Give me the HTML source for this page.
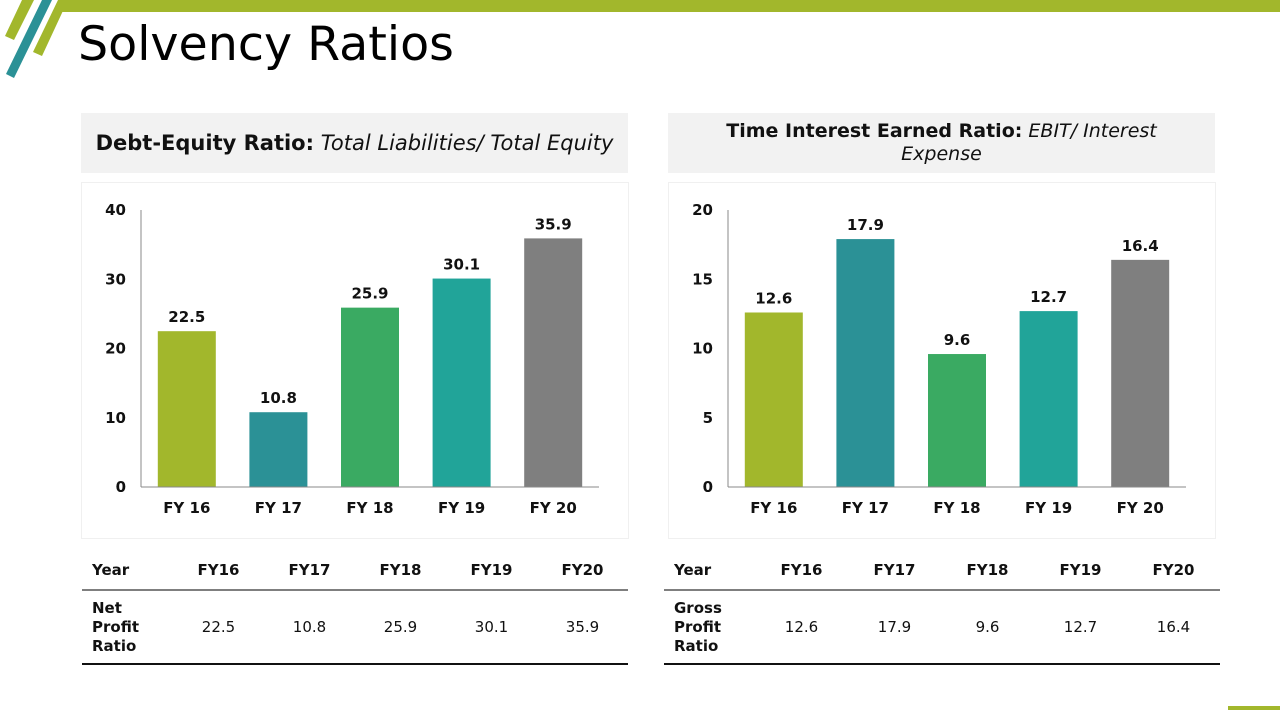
<!DOCTYPE html>
<html><head><meta charset="utf-8"><style>
body{margin:0;width:1280px;height:720px;background:#fff;overflow:hidden;position:relative;font-family:"DejaVu Sans","Liberation Sans",sans-serif;}
.abs{position:absolute}
.hdr{background:#f2f2f2;display:flex;align-items:center;justify-content:center;text-align:center;color:#111}
.panel{border:1px solid #f0f0f0}
table{border-collapse:collapse;font-size:15px;color:#111}
</style></head><body>
<svg class="abs" style="left:0;top:0" width="1280" height="90">
<polygon points="62,0 1280,0 1280,12 56,12" fill="#a2b72c"/>
<polygon points="22,0 34,0 14,40 5,36" fill="#a2b72c"/>
<polygon points="42,0 52,0 14,78 6,74" fill="#2b9196"/>
<polygon points="58,0 68,0 42,56 33,52" fill="#a2b72c"/>
</svg>
<div class="abs" style="left:1228px;top:706px;width:52px;height:4px;background:#a2b72c"></div>
<div class="abs" style="left:78px;top:17px;font-size:47.5px;font-family:'DejaVu Sans',sans-serif;color:#000">Solvency Ratios</div>

<div class="abs hdr" style="left:81px;top:113px;width:547px;height:60px;font-size:21px"><span><b>Debt-Equity Ratio:</b> <i>Total Liabilities/ Total Equity</i></span></div>
<div class="abs hdr" style="left:668px;top:113px;width:547px;height:60px;font-size:19px;line-height:23px"><span><b>Time Interest Earned Ratio:</b> <i>EBIT/ Interest<br>Expense</i></span></div>

<div class="abs panel" style="left:81px;top:182px;width:546px;height:355px"></div>
<div class="abs panel" style="left:668px;top:182px;width:546px;height:355px"></div>
<svg id="charts" class="abs" style="left:0;top:0" width="1280" height="720"></svg>

<table class="abs" id="t1" style="left:82px;top:550px;width:546px"></table>
<table class="abs" id="t2" style="left:664px;top:550px;width:556px"></table>

<script>
const categories=["FY 16","FY 17","FY 18","FY 19","FY 20"];
const tableYears=["FY16","FY17","FY18","FY19","FY20"];
const debtEquity=[22.5,10.8,25.9,30.1,35.9];
const timesInterest=[12.6,17.9,9.6,12.7,16.4];
const ticksLeft=[0,10,20,30,40];
const ticksRight=[0,5,10,15,20];
const colors=["#a2b72c","#2b9196","#3aaa62","#21a499","#7f7f7f"];
const NS="http://www.w3.org/2000/svg";
const svg=document.getElementById('charts');
function mk(t,a){const e=document.createElementNS(NS,t);for(const k in a)e.setAttribute(k,a[k]);svg.appendChild(e);return e;}
function chart(prefix,x0,vals,ticks){
  const yTop=210,yBot=487,xEnd=x0+458,max=ticks[ticks.length-1];
  const y=v=>yBot-(v/max)*(yBot-yTop);
  const step=(xEnd-x0)/vals.length;
  const cx=i=>x0+step*(i+0.5);
  ticks.forEach(t=>{const e=mk('text',{x:x0-15,y:y(t)+5,'text-anchor':'end','font-size':15,'font-weight':'bold',fill:'#111'});e.textContent=t;
  
  });
  vals.forEach((v,i)=>{
    const r=mk('rect',{x:cx(i)-29,y:y(v),width:58,height:yBot-y(v),fill:colors[i]});
    
    
    const l=mk('text',{x:cx(i),y:y(v)-9,'text-anchor':'middle','font-size':15,'font-weight':'bold',fill:'#111'});l.textContent=v;
    
    
    const c=mk('text',{x:cx(i),y:yBot+26,'text-anchor':'middle','font-size':15,'font-weight':'bold',fill:'#111'});c.textContent=categories[i];
    
    
  });
  const a=mk('line',{x1:x0,y1:yTop,x2:x0,y2:yBot,stroke:'#888'});
  
  
  const b=mk('line',{x1:x0,y1:yBot,x2:xEnd,y2:yBot,stroke:'#888'});
  
  
}
chart('left',141,debtEquity,ticksLeft);
chart('right',728,timesInterest,ticksRight);
function table(id,label,vals,w){
  const t=document.getElementById(id);
  let h='<tr style="border-bottom:2px solid #7f7f7f;height:40px"><th style="text-align:left;padding-left:10px;width:'+w+'px">Year</th>';
  tableYears.forEach(y=>h+='<th>'+y+'</th>');
  h+='</tr><tr style="border-bottom:2px solid #111;height:74px"><td style="font-weight:bold;padding-left:10px;line-height:19px">'+label+'</td>';
  vals.forEach(v=>h+='<td style="text-align:center">'+v+'</td>');
  t.innerHTML=h+'</tr>';
}
table('t1','Net<br>Profit<br>Ratio',debtEquity,80);
table('t2','Gross<br>Profit<br>Ratio',timesInterest,80);
</script>
</body></html>
